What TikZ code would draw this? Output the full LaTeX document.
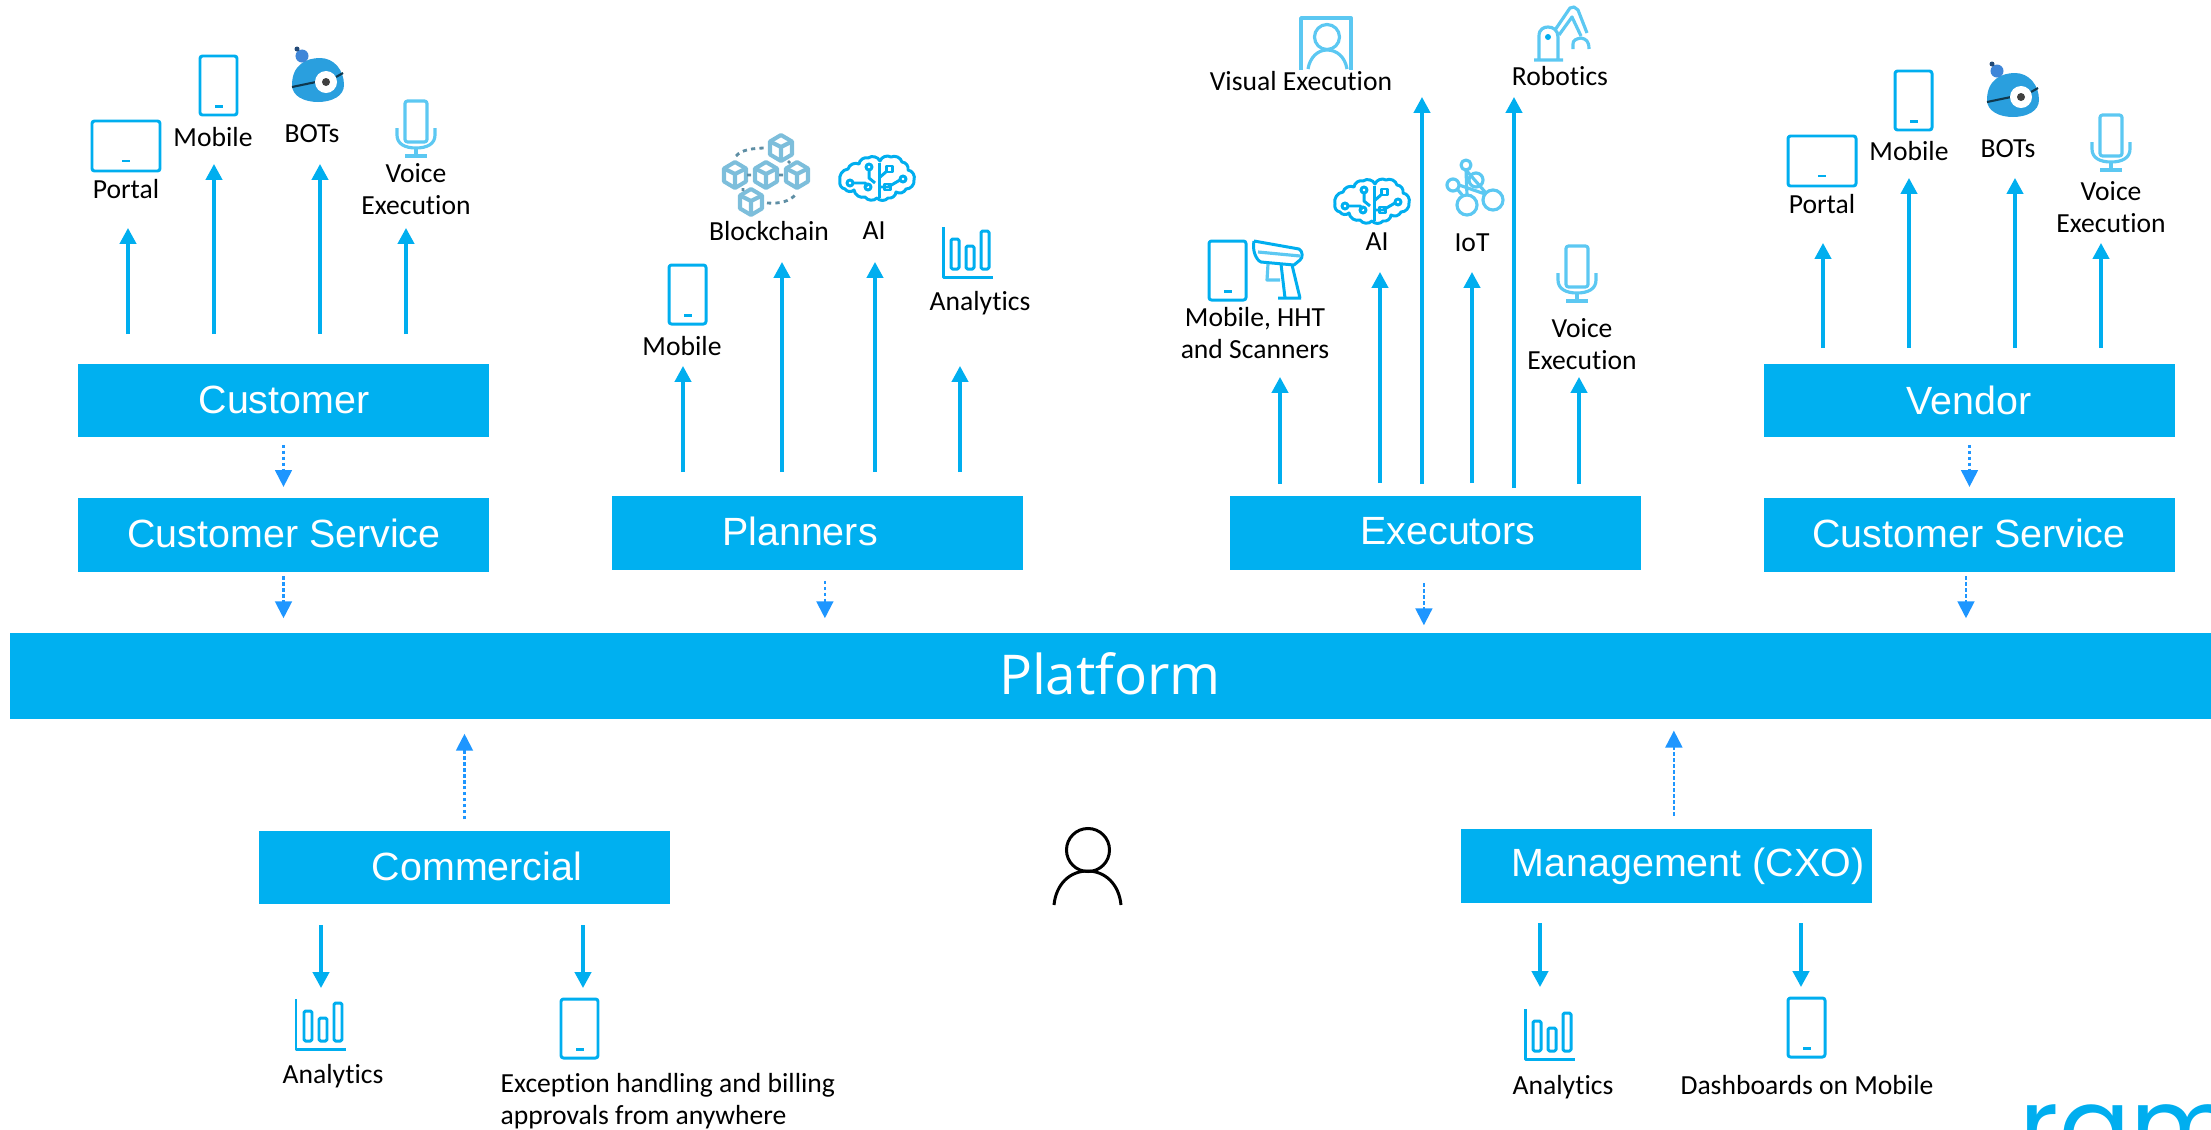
\documentclass[tikz,border=0pt]{standalone}
\usepackage{fontspec}
\usepackage{tikz}
\usetikzlibrary{arrows.meta}
\setmainfont{Carlito}[Ligatures=CommonOff]
\newfontfamily\boxfont{Liberation Sans}
\newfontfamily\platformfont{Open Sans}
\newfontfamily\logofont{Poppins}
\definecolor{skyblue}{HTML}{00B0F0}
\definecolor{lineblue}{HTML}{00AEEF}
\definecolor{paleblue}{HTML}{5CC8F2}
\definecolor{cubeblue}{HTML}{7DBEDB}
\definecolor{dotblue}{HTML}{1E96FF}
\definecolor{botblue}{HTML}{2A9FDE}
\definecolor{hatblue}{HTML}{3F86D8}
\tikzset{
    bluebox/.style={fill=skyblue, inner sep=0pt, minimum width=4.11cm, minimum height=0.73cm},
    boxlabel/.style={text=white, inner sep=0pt, font=\boxfont\fontsize{11.2}{13}\selectfont},
    iconlabel/.style={text=black, inner sep=0pt, align=center, font=\fontsize{7.85}{9.1}\selectfont},
    flowarrow/.style={draw=lineblue, line width=0.95pt, -{Triangle[length=4.5pt,width=4.6pt]}},
    dotarrow/.style={draw=dotblue, line width=0.6pt, dash pattern=on 1pt off 0.7pt,
        -{Triangle[length=4.8pt,width=4.8pt,fill=dotblue]}},
    iconline/.style={draw=lineblue, line width=0.85pt, line join=round},
    paleline/.style={draw=paleblue, line width=0.9pt, line join=round},
    cubeline/.style={draw=cubeblue, line width=1.15pt, line join=round},
    pics/mobileicon/.style={code={
        \draw[iconline, rounded corners=0.7pt] (0,0) rectangle (37,59);
        \draw[iconline] (15,50.5) -- (23,50.5);
    }},
    pics/portalicon/.style={code={
        \draw[iconline, rounded corners=0.7pt] (0,0) rectangle (68,50);
        \draw[iconline] (30,40) -- (38,40);
    }},
    pics/voiceicon/.style={code={
        \draw[paleline, rounded corners=0.7pt] (8,0) rectangle (30,41);
        \draw[paleline] (0,27) -- (0,34) .. controls (0,43) and (8,47) .. (19,47)
            .. controls (30,47) and (38,43) .. (38,34) -- (38,27);
        \draw[paleline] (19,47) -- (19,54) (8,55) -- (30,55);
    }},
    pics/analyticsicon/.style={code={
        \draw[iconline] (0,0) -- (0,50) -- (50,50);
        \draw[iconline, rounded corners=0.4pt] (8,12) rectangle (16,42);
        \draw[iconline, rounded corners=0.4pt] (23,19) rectangle (31,42);
        \draw[iconline, rounded corners=0.4pt] (38,4) rectangle (46,42);
    }},
    pics/boticon/.style={code={
        \fill[fill=botblue] (-26,5) .. controls (-26,-15) and (-12,-22) .. (2,-22)
            .. controls (16,-22) and (26,-10) .. (26,5) .. controls (26,16) and (14,22) .. (0,22)
            .. controls (-14,22) and (-26,16) .. (-26,5) -- cycle;
        \draw[line width=0.6pt, draw=black!65!botblue] (-26,7) -- (-2,2) (18,-3) -- (25,-7);
        \fill[white] (8,2) circle[radius=0.11cm];
        \fill[black!75] (8,2) circle[radius=0.04cm];
        \fill[fill=hatblue] (-16,-24) circle[radius=0.065cm];
        \fill[fill=black!45!hatblue] (-21,-31) circle[radius=0.025cm];
    }},
    pics/brainicon/.style={code={
        \draw[iconline] (0,25) to[bend left=50] (8,13) to[bend left=50] (19,8) to[bend left=50] (28,2)
            to[bend left=50] (40,5) to[bend left=50] (51,1) to[bend left=50] (62,6)
            to[bend left=50] (68,14) to[bend left=50] (74,24) to[bend left=50] (66,33)
            to[bend left=50] (56,36) to[bend left=50] (48,42) to[bend left=50] (37,42)
            to[bend left=50] (25,41) to[bend left=50] (14,34) to[bend left=50] (5,33)
            to[bend left=50] (0,25);
        \draw[iconline] (39,7) -- (39,42);
        \draw[iconline] (13,27) -- (25,27) -- (28,30) (29,14) -- (29,22) -- (35,27)
            (47,15) -- (39,22) (39,31) -- (48,31) -- (60,24);
        \draw[iconline] (10,27) circle[radius=0.03cm] (28,31) circle[radius=0.03cm]
            (63,23) circle[radius=0.03cm] (29,11) circle[radius=0.03cm];
        \draw[iconline] (46,10) rectangle (52,16);
        \draw[iconline] (44,28) rectangle (50,34);
    }},
    pics/cubeicon/.style={code={
        \draw[cubeline] (0,-13) -- (11,-6.5) -- (11,6.5) -- (0,13) -- (-11,6.5) -- (-11,-6.5) -- cycle;
        \draw[cubeline] (-11,-6.5) -- (0,-1) -- (11,-6.5) (0,-1) -- (0,13);
    }}
}

\begin{document}
\begin{tikzpicture}[x=0.01cm, y=-0.01cm]
    \useasboundingbox (0,0) rectangle (2211,1130);

    % draws boxes
    \node[bluebox] (customer) at (283.5,400.5) {};
    \node[bluebox] (cservice) at (283.5,535) {};
    \node[bluebox] (planners) at (817.5,533) {};
    \node[bluebox] (executors) at (1435.5,533) {};
    \node[bluebox] (vendor) at (1969.5,400.5) {};
    \node[bluebox] (vservice) at (1969.5,535) {};
    \node[bluebox] (commercial) at (464.5,867.5) {};
    \node[bluebox] (management) at (1666.5,866) {};
    \node[fill=skyblue, inner sep=0pt, minimum width=22cm, minimum height=0.86cm] (platform) at (1111,676) {};

    % labels boxes
    \node[boxlabel] (customertext) at (284,400) {Customer};
    \node[boxlabel] (cservicetext) at (284,533) {Customer Service};
    \node[boxlabel] (plannerstext) at (800,531) {Planners};
    \node[boxlabel] (executorstext) at (1448,531) {Executors};
    \node[boxlabel] (vendortext) at (1969,400) {Vendor};
    \node[boxlabel] (vservicetext) at (1969,533) {Customer Service};
    \node[boxlabel] (commercialtext) at (477,866) {Commercial};
    \node[boxlabel] (managementtext) at (1688,866) {Management (CXO)};
    \node[text=white, inner sep=0pt, font=\platformfont\fontsize{15.6}{18}\selectfont] (platformtext) at (1110,674) {Platform};

    % labels icons
    \node[iconlabel] (portalleft) at (126,189) {Portal};
    \node[iconlabel] (mobileleft) at (213,137) {Mobile};
    \node[iconlabel] (botleft) at (312,134) {BOTs};
    \node[iconlabel] (voiceleft) at (416,189) {Voice\\Execution};
    \node[iconlabel] (mobileplan) at (682,346) {Mobile};
    \node[iconlabel] (blockchain) at (769,231) {Blockchain};
    \node[iconlabel] (aiplan) at (874,231) {AI};
    \node[iconlabel] (analyticsplan) at (980,303) {Analytics};
    \node[iconlabel] (visual) at (1301,81) {Visual Execution};
    \node[iconlabel] (robotics) at (1560,76) {Robotics};
    \node[iconlabel] (aiexec) at (1377,242) {AI};
    \node[iconlabel] (iot) at (1472,243) {IoT};
    \node[iconlabel] (scanners) at (1255,333) {Mobile, HHT\\and Scanners};
    \node[iconlabel] (voiceexec) at (1582,344) {Voice\\Execution};
    \node[iconlabel] (portalright) at (1822,204) {Portal};
    \node[iconlabel] (mobileright) at (1909,151) {Mobile};
    \node[iconlabel] (botright) at (2008,149) {BOTs};
    \node[iconlabel] (voiceright) at (2111,207) {Voice\\Execution};
    \node[iconlabel] (analyticscom) at (333,1076) {Analytics};
    \node[iconlabel, anchor=west, align=left] (exception) at (500,1101) {Exception handling and billing\\approvals from anywhere};
    \node[iconlabel] (analyticscxo) at (1563,1087) {Analytics};
    \node[iconlabel] (dashboards) at (1807,1085) {Dashboards on Mobile};

    % draws repeated icons
    \pic (portal1) at (92,121) {portalicon};
    \pic (portal2) at (1788,136) {portalicon};
    \foreach \name/\ix/\iy in {mob1/200/56, mob2/1895/71, mob3/669/265, mob4/1209/241,
            mob5/561/999, mob6/1788/998}
        \pic (\name) at (\ix,\iy) {mobileicon};
    \foreach \name/\ix/\iy in {voi1/397/101, voi2/2092/115, voi3/1558/246}
        \pic (\name) at (\ix,\iy) {voiceicon};
    \foreach \name/\ix/\iy in {ana1/943/227, ana2/296/999, ana3/1525/1009}
        \pic (\name) at (\ix,\iy) {analyticsicon};
    \pic (bot1) at (318,80) {boticon};
    \pic (bot2) at (2013,95) {boticon};
    \pic (brain1) at (840,156) {brainicon};
    \pic (brain2) at (1335,179) {brainicon};

    % draws blockchain icon
    \foreach \name/\ix/\iy in {cub1/781/148, cub2/735/175, cub3/766/175, cub4/797/175, cub5/751/202}
        \pic (\name) at (\ix,\iy) {cubeicon};
    \draw[draw=black!25!cubeblue, line width=0.8pt, dash pattern=on 1.2pt off 1.2pt]
        (736,156) .. controls (741,150) and (752,148) .. (767,148)
        (767,203) .. controls (780,204) and (790,201) .. (795,195)
        (747,175) -- (753,175) (779,175) -- (785,175) (743,188) -- (743,191) (788,161) -- (790,163);

    % draws visual execution icon
    \draw[paleline, line width=1.1pt] (1301,70) -- (1301,18) -- (1351,18) -- (1351,70);
    \draw[paleline] (1327,37) circle[radius=0.125cm];
    \draw[paleline] (1308,69) .. controls (1310,57) and (1318,50) .. (1327,50)
        .. controls (1337,50) and (1345,57) .. (1347,69);

    % draws robot icon
    \draw[paleline] (1539,60) -- (1539,36) .. controls (1539,29) and (1544,27) .. (1548,27)
        .. controls (1553,27) and (1558,30) .. (1558,37) -- (1558,60) (1534,60) -- (1563,60);
    \fill[fill=lineblue] (1548,37) circle[radius=0.03cm];
    \draw[paleline] (1555,30) -- (1570,8) -- (1574,7) -- (1578,10) -- (1587,33) (1559,35) -- (1572,17) -- (1581,36);
    \draw[paleline] (1573,49) -- (1573,44) .. controls (1573,40) and (1576,39) .. (1581,38)
        .. controls (1586,39) and (1589,41) .. (1589,49);

    % draws iot icon
    \draw[paleline] (1466,165) circle[radius=0.05cm] (1453,185) circle[radius=0.06cm]
        (1476,180) circle[radius=0.07cm] (1467,205) circle[radius=0.1cm] (1493,200) circle[radius=0.1cm];
    \draw[paleline] (1466,170) -- (1467,195) (1466,170) -- (1486,193) (1459,185) -- (1485,194) (1458,190) -- (1463,196);

    % draws scanner icon
    \draw[iconline] (1254,241) -- (1299,249) .. controls (1303,251) and (1303,258) .. (1300,260)
        -- (1294,265) -- (1261,262) .. controls (1256,260) and (1252,250) .. (1254,241);
    \draw[iconline] (1281,264) -- (1285,298) (1292,265) -- (1300,298) (1278,298) -- (1301,298);
    \draw[paleline] (1268,264) -- (1267,280) -- (1280,280) (1258,252) -- (1300,256);

    % draws person
    \draw[line width=0.85pt, draw=black] (1088,850) circle[radius=0.215cm];
    \draw[line width=0.85pt, draw=black] (1054,905) .. controls (1056,884) and (1070,871) .. (1087.5,871)
        .. controls (1105,871) and (1119,884) .. (1121,905);

    % draws arrows
    \foreach \name/\ax/\ay/\by in {pa1/128/334/228, pa2/214/334/164, pa3/320/334/164, pa4/406/334/228,
            pb1/683/472/366, pb2/782/472/262, pb3/875/472/262, pb4/960/472/366,
            pc1/1280/484/377, pc2/1380/483/272, pc3/1422/484/97, pc4/1472/483/272,
            pc5/1514/488/97, pc6/1579/484/377,
            pd1/1823/348/243, pd2/1909/348/178, pd3/2015/348/178, pd4/2101/348/243,
            pe1/321/925/988, pe2/583/925/988, pf1/1540/923/987, pf2/1801/923/987} {
        \coordinate (\name start) at (\ax,\ay);
        \coordinate (\name end) at (\ax,\by);
        \draw[flowarrow] (\name start) -- (\name end);
    }

    % draws dotted arrows
    \draw[dotarrow, shorten <=2pt, shorten >=3.1pt] (customer) -- (cservice);
    \draw[dotarrow, shorten <=2pt, shorten >=3.1pt] (vendor) -- (vservice);
    \draw[dotarrow, shorten <=1.1pt, shorten >=4pt] (cservice.south) -- (cservice.south |- platform.north);
    \draw[dotarrow, shorten <=3pt, shorten >=4pt] ([xshift=2.1pt]planners.south) -- ([xshift=2.1pt]planners.south |- platform.north);
    \draw[dotarrow, shorten <=3.7pt, shorten >=2pt] ([xshift=-3.3pt]executors.south) -- ([xshift=-3.3pt]executors.south |- platform.north);
    \draw[dotarrow, shorten <=1.1pt, shorten >=4pt] ([xshift=-1pt]vservice.south) -- ([xshift=-1pt]vservice.south |- platform.north);
    \draw[dotarrow, shorten <=3.1pt, shorten >=4pt] (commercial.north) -- (commercial.north |- platform.south);
    \draw[dotarrow, shorten <=3.7pt, shorten >=3.1pt] ([xshift=2.1pt]management.north) -- ([xshift=2.1pt]management.north |- platform.south);

    % draws logo
    \begin{scope}
        \clip (0,0) rectangle (2211,1130);
        \node[anchor=base west, inner sep=0pt, text=lineblue, font=\logofont\fontsize{30}{30}\selectfont] (logo) at (2019,1163) {ram};
    \end{scope}
\end{tikzpicture}
\end{document}
